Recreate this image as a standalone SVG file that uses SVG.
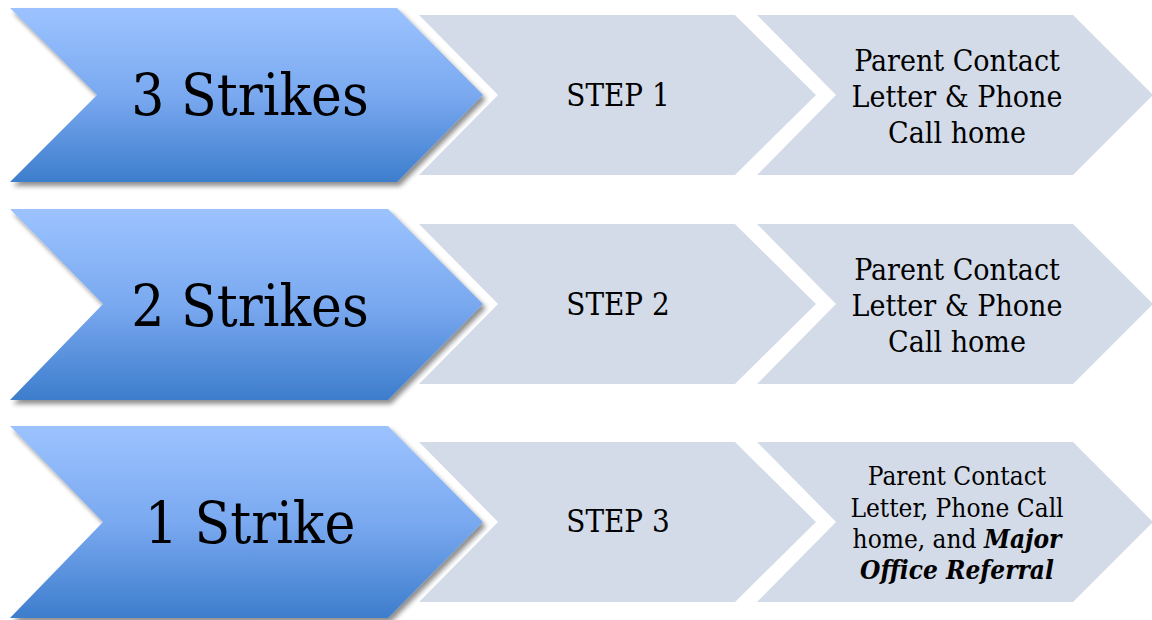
<svg xmlns="http://www.w3.org/2000/svg" width="1152" height="620" viewBox="0 0 1152 620">
<defs>
<linearGradient id="blue" x1="0" y1="0" x2="0" y2="1">
<stop offset="0" stop-color="#9CC3FF"/>
<stop offset="0.5" stop-color="#7AA9F0"/>
<stop offset="1" stop-color="#3D7DCC"/>
</linearGradient>
<filter id="shadow" x="-5%" y="-5%" width="115%" height="120%">
<feGaussianBlur in="SourceAlpha" stdDeviation="2.5"/>
<feOffset dx="3" dy="4" result="b"/>
<feComponentTransfer><feFuncA type="linear" slope="0.45"/></feComponentTransfer>
<feMerge><feMergeNode/><feMergeNode in="SourceGraphic"/></feMerge>
</filter>
</defs>
<style>
.big{fill:url(#blue);filter:url(#shadow)}
.gray{fill:#D4DBE8}
text{font-family:"DejaVu Serif Condensed","DejaVu Serif","Liberation Serif",serif;fill:#000;text-anchor:middle}
.t1{font-size:58px}
.t2{font-size:31px}
.t3{font-size:30px}
.t4{font-size:26px}
.bi{font-weight:bold;font-style:italic}
</style>
<rect width="1152" height="620" fill="#fff"/>
<g id="row1">
<g id="step1-right"><polygon class="gray" points="757,15 1073,15 1153,95 1073,175 757,175 836,95"/>
<text class="t3"><tspan x="957" y="71">Parent Contact</tspan><tspan x="957" y="107">Letter &amp; Phone</tspan><tspan x="957" y="143">Call home</tspan></text></g>
<g id="step1"><polygon class="gray" points="419,15 735,15 816,95 735,175 419,175 498,95"/>
<text class="t2" x="618" y="106">STEP 1</text></g>
<g id="strikes3"><polygon class="big" points="10,8 397,8 483,95 397,182 10,182 97,95"/>
<text class="t1" x="250" y="115">3 Strikes</text></g>
</g>
<g id="row2">
<g id="step2-right"><polygon class="gray" points="757,224 1073,224 1153,304 1073,384 757,384 836,304"/>
<text class="t3"><tspan x="957" y="280">Parent Contact</tspan><tspan x="957" y="316">Letter &amp; Phone</tspan><tspan x="957" y="352">Call home</tspan></text></g>
<g id="step2"><polygon class="gray" points="419,224 735,224 816,304 735,384 419,384 498,304"/>
<text class="t2" x="618" y="315">STEP 2</text></g>
<g id="strikes2"><polygon class="big" points="10,209 388,209 483,304 388,400 10,400 103,304"/>
<text class="t1" x="250" y="326">2 Strikes</text></g>
</g>
<g id="row3">
<g id="step3-right"><polygon class="gray" points="757,442 1073,442 1153,522 1073,602 757,602 836,522"/>
<text class="t4"><tspan x="957" y="485">Parent Contact</tspan><tspan x="957" y="517">Letter, Phone Call</tspan><tspan x="957" y="548">home, and <tspan class="bi">Major</tspan></tspan><tspan x="957" y="579" class="bi">Office Referral</tspan></text></g>
<g id="step3"><polygon class="gray" points="419,442 735,442 816,522 735,602 419,602 498,522"/>
<text class="t2" x="618" y="532">STEP 3</text></g>
<g id="strike1"><polygon class="big" points="10,426 388,426 483,522 388,618 10,618 103,522"/>
<text class="t1" x="250" y="543">1 Strike</text></g>
</g>
<g id="connectors"></g>
</svg>
